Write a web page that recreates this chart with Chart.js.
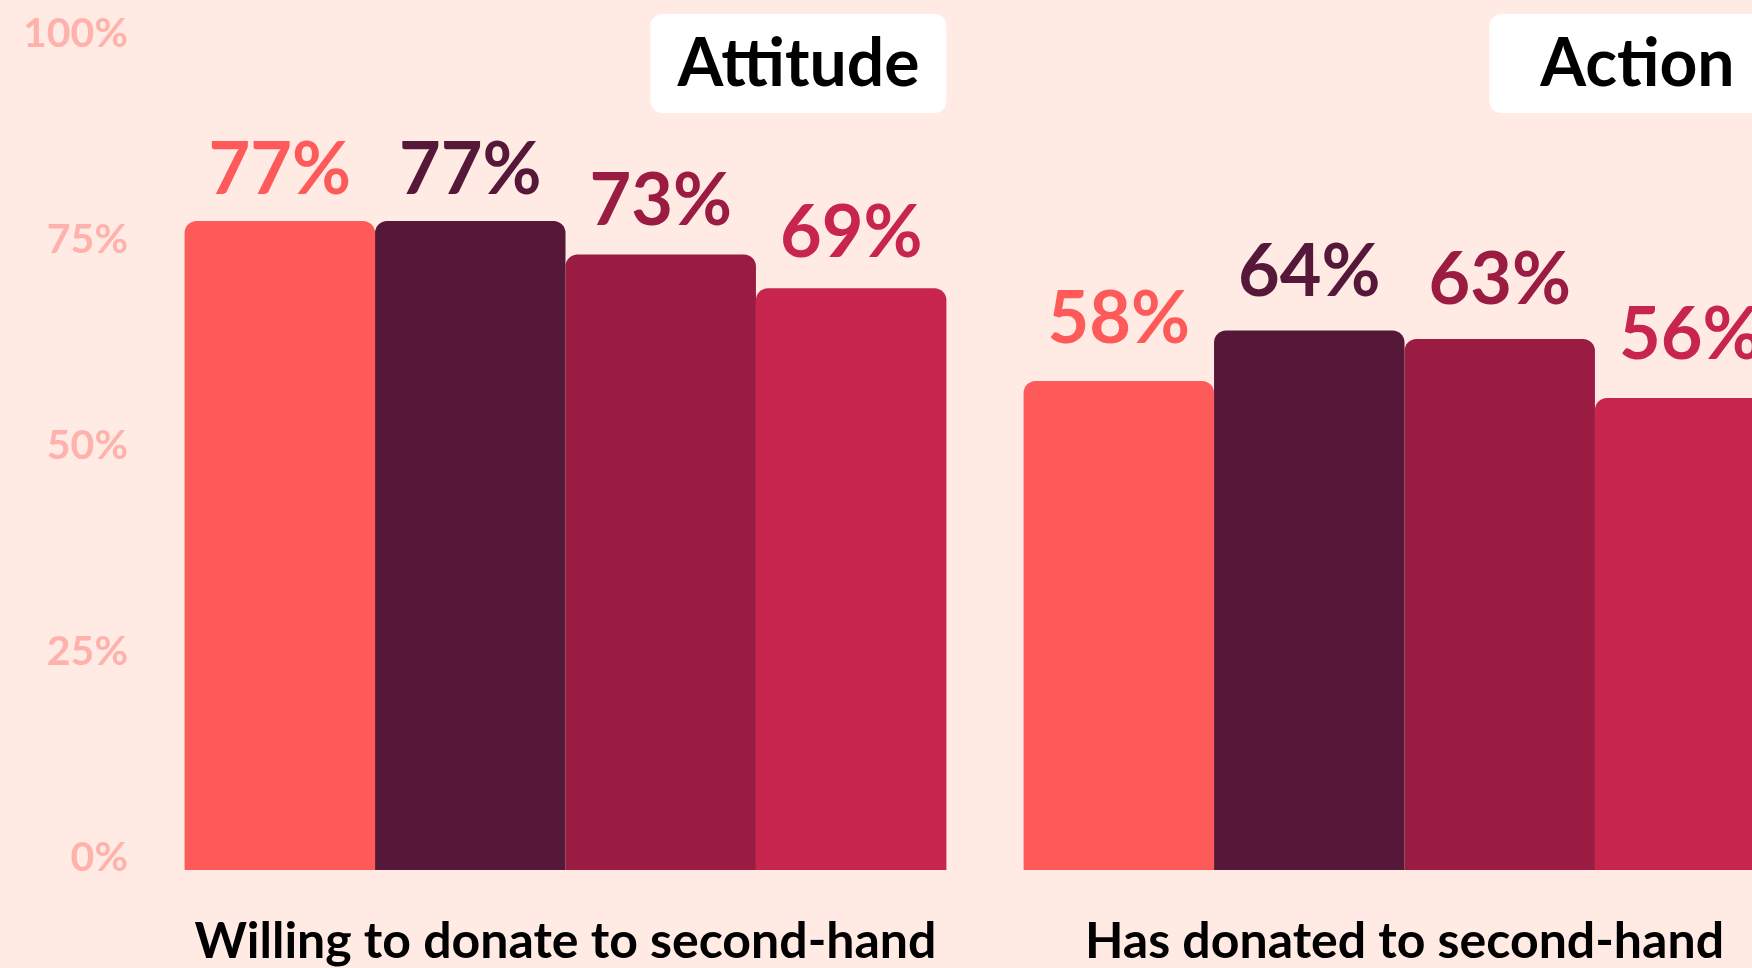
<!DOCTYPE html>
<html lang="en">
<head>
<meta charset="utf-8">
<script src="https://cdn.jsdelivr.net/npm/chart.js@4.4.1/dist/chart.umd.min.js"></script>
<style>
  html, body { margin: 0; padding: 0; background: #ffeae4; overflow: hidden; }
  #contenedor { position: relative; width: 1830px; height: 968px; }
</style>
</head>
<body>
<div id="contenedor"><canvas id="donaciones"></canvas></div>
<script>
const categorias = ['Willing to donate to second-hand', 'Has donated to second-hand'];
const etiquetasGrupo = ['Attitude', 'Action'];
const nombresSeries = ['Grupo 1', 'Grupo 2', 'Grupo 3', 'Grupo 4'];
const serie1 = [77, 58];
const serie2 = [77, 64];
const serie3 = [73, 63];
const serie4 = [69, 56];
const marcasEje = [0, 25, 50, 75, 100];

const colores = ['#ff5a5a', '#561838', '#9b1c43', '#c8254d'];
const fuente = "'Lato', sans-serif";

// valores encima de cada barra, del mismo color que la barra
const etiquetasValores = {
  id: 'etiquetasValores',
  afterDatasetsDraw(chart) {
    const { ctx } = chart;
    const escala = chart.scales.posEtiquetas;
    ctx.save();
    ctx.font = `bold 72px ${fuente}`;
    ctx.textAlign = 'center';
    ctx.textBaseline = 'alphabetic';
    chart.data.datasets.forEach((serie, i) => {
      chart.getDatasetMeta(i).data.forEach((barra, j) => {
        ctx.fillStyle = serie.backgroundColor;
        ctx.fillText(`${serie.data[j]}%`, barra.x, escala.getPixelForValue(serie.data[j]));
      });
    });
    ctx.restore();
  }
};

// cajas blancas con el nombre de cada grupo, alineadas al borde derecho del grupo
const cajasGrupo = {
  id: 'cajasGrupo',
  afterDraw(chart) {
    const { ctx } = chart;
    const ultima = chart.getDatasetMeta(chart.data.datasets.length - 1);
    ctx.save();
    ctx.font = `bold 66px ${fuente}`;
    ctx.textAlign = 'center';
    ctx.textBaseline = 'alphabetic';
    etiquetasGrupo.forEach((texto, j) => {
      const barra = ultima.data[j];
      const derecha = barra.x + barra.width / 2;
      const ancho = 296;
      const izquierda = derecha - ancho;
      ctx.fillStyle = '#ffffff';
      ctx.beginPath();
      ctx.roundRect(izquierda, 14, ancho, 99, 12);
      ctx.fill();
      ctx.fillStyle = '#000000';
      ctx.fillText(texto, izquierda + ancho / 2, 86);
    });
    ctx.restore();
  }
};

const ctxDonaciones = document.getElementById('donaciones');

new Chart(ctxDonaciones, {
  type: 'bar',
  data: {
    labels: categorias,
    datasets: [serie1, serie2, serie3, serie4].map((valores, i) => ({
      label: nombresSeries[i],
      data: valores,
      backgroundColor: colores[i],
      borderWidth: 0,
      borderRadius: { topLeft: 12, topRight: 12, bottomLeft: 0, bottomRight: 0 },
      borderSkipped: 'bottom',
      categoryPercentage: 0.908,
      barPercentage: 1,
      yAxisID: 'y'
    }))
  },
  options: {
    responsive: true,
    maintainAspectRatio: false,
    animation: false,
    layout: {
      padding: { top: 27, right: 6, bottom: 0, left: 0 }
    },
    plugins: {
      legend: { display: false },
      tooltip: { enabled: false }
    },
    scales: {
      x: {
        grid: { display: false, drawTicks: false },
        border: { display: false },
        ticks: {
          color: '#000000',
          padding: 42,
          font: { size: 50, weight: 'bold', family: fuente }
        },
        afterFit: (eje) => { eje.height = 98; }
      },
      y: {
        display: false,
        min: 0,
        max: 100
      },
      ejeMarcas: {
        type: 'linear',
        axis: 'y',
        position: 'left',
        min: -1.5,
        max: 100.8,
        grid: { display: false, drawTicks: false },
        border: { display: false },
        afterBuildTicks: (eje) => { eje.ticks = marcasEje.map((v) => ({ value: v })); },
        ticks: {
          color: '#ffb2ac',
          padding: 18,
          callback: (valor) => `${valor}%`,
          font: { size: 41, weight: 'bold', family: fuente }
        },
        afterFit: (eje) => {
          eje.width = 146;
          eje.paddingTop = 0;
          eje.paddingBottom = 0;
        }
      },
      posEtiquetas: {
        type: 'linear',
        axis: 'y',
        position: 'left',
        display: false,
        min: -9,
        max: 98.2
      }
    }
  },
  plugins: [etiquetasValores, cajasGrupo]
});
</script>
</body>
</html>
